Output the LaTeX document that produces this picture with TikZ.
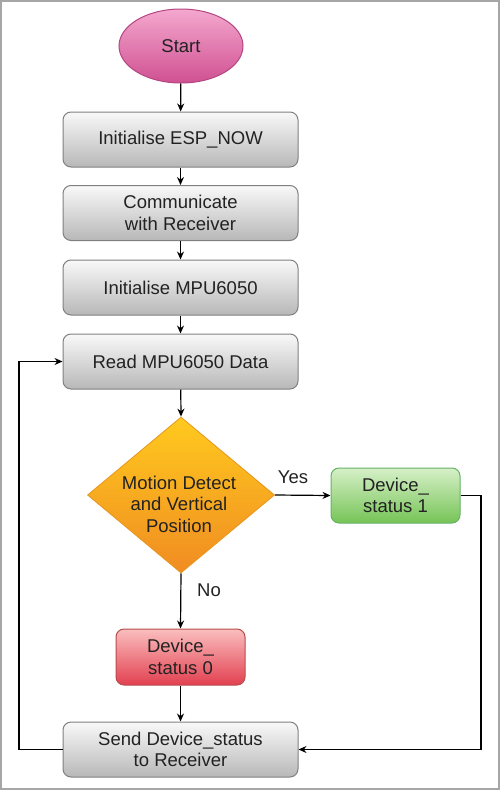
\documentclass[tikz,border=0pt]{standalone}
\usepackage{fontspec}
\setmainfont{Liberation Sans}
\usetikzlibrary{shapes.geometric,arrows.meta}
\definecolor{txt}{HTML}{222222}
\tikzset{
  base/.style={font=\fontsize{18.5}{21.5}\selectfont, text=txt, align=center, inner sep=0pt},
  procbox/.style={base, draw=black!50, line width=1pt, rounded corners=8pt,
    top color=white!95!gray, bottom color=black!28, minimum width=235pt, minimum height=55pt},
  greenbox/.style={base, draw=green!50!black!60, line width=1pt, rounded corners=8pt,
    top color={rgb,255:red,214;green,240;blue,200}, bottom color={rgb,255:red,118;green,196;blue,86},
    minimum width=129pt, minimum height=55pt},
  redbox/.style={base, draw=red!60!black!70, line width=1pt, rounded corners=8pt,
    top color={rgb,255:red,250;green,190;blue,190}, bottom color={rgb,255:red,226;green,64;blue,80},
    minimum width=129pt, minimum height=56pt},
  startshape/.style={base, ellipse, draw={rgb,255:red,180;green,70;blue,130}, line width=1pt,
    top color={rgb,255:red,244;green,168;blue,206}, bottom color={rgb,255:red,208;green,80;blue,146},
    minimum width=124pt, minimum height=74pt},
  decision/.style={diamond, draw={rgb,255:red,230;green,150;blue,30}, line width=0.8pt,
    top color={rgb,255:red,255;green,202;blue,30}, bottom color={rgb,255:red,240;green,140;blue,34},
    minimum width=187pt, minimum height=156pt, inner sep=0pt},
  conn/.style={draw=black, line width=1.2pt, -{Stealth[length=8pt,width=7pt]}},
  lbl/.style={base}
}
\begin{document}
\begin{tikzpicture}[x=1pt,y=-1pt]
\useasboundingbox (0,0) rectangle (500,790);
\draw[line width=2pt, draw=black!35] (1,1) rectangle (499,789);

\node[startshape] (start) at (181,46) {Start};
\node[procbox] (esp) at (180.5,139.5) {Initialise ESP\_NOW};
\node[procbox] (comm) at (180.5,213) {Communicate\\with Receiver};
\node[procbox] (mpu) at (180.5,287.5) {Initialise MPU6050};
\node[procbox] (read) at (180.5,361.5) {Read MPU6050 Data};
\node[decision] (dec) at (181,495) {};
\node[base] (dectext) at (179,504) {Motion Detect\\and Vertical\\Position};
\node[greenbox] (ds1) at (395.5,495.5) {Device\_\\status 1};
\node[redbox] (ds0) at (180.5,657) {Device\_\\status 0};
\node[procbox] (send) at (180.5,749.5) {Send Device\_status\\to Receiver};

\node[lbl] (yes) at (293,477) {Yes};
\node[lbl] (no) at (209,590) {No};

\coordinate (lb) at (19,749.5);
\coordinate (lt) at (19,361.5);
\coordinate (rt) at (481,495.5);
\coordinate (rb) at (481,749.5);

\draw[conn] (start) -- (esp);
\draw[conn] (esp) -- (comm);
\draw[conn] (comm) -- (mpu);
\draw[conn] (mpu) -- (read);
\draw[conn] (read) -- (dec.north);
\draw[conn] (dec.east) -- (ds1.west);
\draw[conn] (dec.south) -- (ds0.north);
\draw[conn] (ds0) -- (send);
\draw[conn] (send.west) -- (lb) -- (lt) -- (read.west);
\draw[conn] (ds1.east) -- (rt) -- (rb) -- (send.east);
\end{tikzpicture}
\end{document}
